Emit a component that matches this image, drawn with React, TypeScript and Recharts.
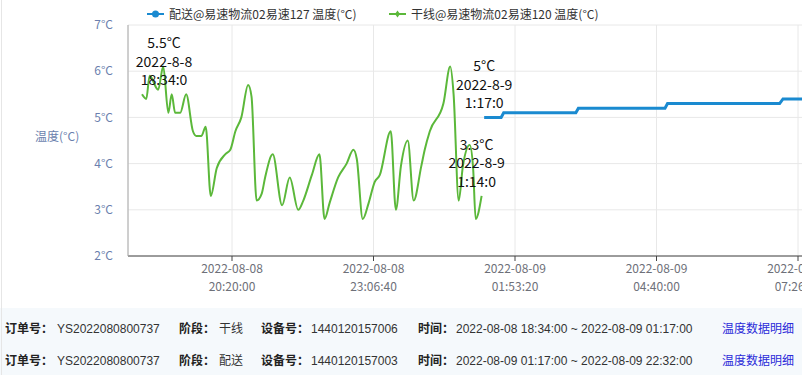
import React from "react";
import {
	LineChart,
	Line,
	XAxis,
	YAxis,
	CartesianGrid,
	ReferenceDot,
} from "recharts";

// series names
const deliveryName = "配送@易速物流02易速127 温度(°C)";
const trunkName = "干线@易速物流02易速120 温度(°C)";

// time = minutes since 2022-08-08 00:00
const trunkTimes = [
	1114, 1119, 1123, 1133, 1139, 1145, 1149, 1153, 1159, 1166, 1174, 1178, 1184,
	1189, 1195, 1202, 1212, 1218, 1224, 1231, 1239, 1243, 1249, 1255, 1259, 1268,
	1279, 1288, 1298, 1304, 1314, 1323, 1329, 1335, 1345, 1355, 1363, 1367, 1374,
	1381, 1388, 1394, 1407, 1413, 1419, 1427, 1434, 1443, 1447, 1453, 1469, 1477,
	1481, 1487, 1492, 1500, 1504, 1507, 1514,
];
const trunkTemps = [
	5.5, 5.4, 5.9, 5.6, 6.1, 5.1, 5.5, 5.1, 5.1, 5.5, 4.7, 4.6, 4.6, 4.8, 3.3, 3.9,
	4.2, 4.3, 4.7, 5.0, 5.7, 5.45, 3.2, 3.35, 3.7, 4.2, 3.1, 3.7, 3.0, 3.2, 3.75,
	4.2, 2.8, 3.15, 3.7, 4.0, 4.3, 4.1, 2.8, 3.15, 3.6, 3.75, 4.7, 3.0, 3.95, 4.5,
	3.2, 3.95, 4.3, 4.7, 5.3, 6.1, 5.5, 3.2, 3.95, 4.4, 3.9, 2.8, 3.3,
];
const deliveryTimes = [1517, 1537, 1540, 1625, 1628, 1730, 1733, 1865, 1869, 1910];
const deliveryTemps = [5.0, 5.0, 5.1, 5.1, 5.2, 5.2, 5.3, 5.3, 5.4, 5.4];

const xTicks = [1220, 1386.667, 1553.333, 1720, 1886.667];
const xTickDates = ["2022-08-08", "2022-08-08", "2022-08-09", "2022-08-09", "2022-08-09"];
const xTickTimes = ["20:20:00", "23:06:40", "01:53:20", "04:40:00", "07:26:40"];
const yTicks = [2, 3, 4, 5, 6, 7];

// annotated points
const noteTimes = [1114, 1517, 1514];
const noteTemps = [5.5, 5, 3.3];

// order rows
const orderNos = ["YS2022080800737", "YS2022080800737"];
const stages = ["干线", "配送"];
const deviceIds = ["1440120157006", "1440120157003"];
const timeRanges = [
	"2022-08-08 18:34:00 ~ 2022-08-09 01:17:00",
	"2022-08-09 01:17:00 ~ 2022-08-09 22:32:00",
];

const trunkData = trunkTimes.map((t, i) => ({ t, v: trunkTemps[i] }));
const deliveryData = deliveryTimes.map((t, i) => ({ t, v: deliveryTemps[i] }));

const GREEN = "#5bb83a";
const BLUE = "#1a8ad0";
const FONT = "'Noto Sans CJK SC', 'Noto Sans', sans-serif";

function noteLines(t: number, v: number) {
	const day = 8 + Math.floor(t / 1440);
	const m = t % 1440;
	return [`${v}°C`, `2022-8-${day}`, `${Math.floor(m / 60)}:${m % 60}:0`];
}

const noteDx = [22, 0, -5];

function XTick(props: any) {
	const { x, y, index } = props;
	return (
		<text x={x} y={y} textAnchor='middle' fill='#6e7079' fontSize={12}>
			<tspan x={x} dy='0.75em'>
				{xTickDates[index]}
			</tspan>
			<tspan x={x} dy='1.5em'>
				{xTickTimes[index]}
			</tspan>
		</text>
	);
}

export default function App() {
	const rowLabel = { position: "absolute" as const, fontWeight: 700, color: "#222" };
	const rowVal = { position: "absolute" as const, color: "#333" };
	return (
		<div
			style={{
				position: "relative",
				width: 802,
				height: 375,
				overflow: "hidden",
				background: "#fff",
				fontFamily: FONT,
			}}>
			<style>{`body{margin:0}`}</style>
			<div style={{ position: "absolute", left: 0, top: 0 }}>
				<LineChart
					width={900}
					height={300}
					margin={{ top: 25, right: 0, bottom: 0, left: 0 }}>
					<CartesianGrid stroke='#e8e8e8' />
					<XAxis
						type='number'
						dataKey='t'
						domain={[1097.5, 2006.8]}
						ticks={xTicks}
						interval={0}
						allowDataOverflow
						height={44}
						tickSize={5}
						tickMargin={3}
						axisLine={{ stroke: "#444" }}
						tickLine={{ stroke: "#444" }}
						tick={<XTick />}
					/>
					<YAxis
						type='number'
						domain={[2, 7]}
						ticks={yTicks}
						width={128}
						tickLine={false}
						tickMargin={9}
						tickFormatter={(v) => `${v}°C`}
						tick={{ fill: "#6b7fae", fontSize: 12 }}
						axisLine={{ stroke: "#aaa" }}
						label={{
							value: "温度(°C)",
							position: "insideLeft",
							offset: 35,
							fill: "#6b7fae",
							fontSize: 12,
							dy: -4,
						}}
					/>
					<Line
						data={trunkData}
						dataKey='v'
						name={trunkName}
						type='monotone'
						stroke={GREEN}
						strokeWidth={2}
						dot={false}
						isAnimationActive={false}
					/>
					<Line
						data={deliveryData}
						dataKey='v'
						name={deliveryName}
						type='linear'
						stroke={BLUE}
						strokeWidth={3}
						dot={false}
						isAnimationActive={false}
					/>
					{noteTimes.map((t, i) => (
						<ReferenceDot
							key={i}
							x={t}
							y={noteTemps[i]}
							r={1}
							ifOverflow='visible'
							shape={(p: any) => {
								const lines = noteLines(t, noteTemps[i]);
								const cx = p.cx + noteDx[i];
								return (
									<g>
										{lines.map((s, j) => (
											<text
												key={j}
												x={cx}
												y={p.cy - 14 - (2 - j) * 18.5}
												dy='0.35em'
												textAnchor='middle'
												fontSize={14}
												fill='#111'>
												{s}
											</text>
										))}
									</g>
								);
							}}
						/>
					))}
				</LineChart>
			</div>

			{/* legend */}
			<div
				style={{
					position: "absolute",
					left: 147,
					top: 5,
					display: "flex",
					alignItems: "center",
					fontSize: 12,
					color: "#333",
				}}>
				<svg width={17} height={10}>
					<line x1={0} y1={5} x2={17} y2={5} stroke={BLUE} strokeWidth={2} />
					<circle cx={8.5} cy={5} r={3.5} fill={BLUE} />
				</svg>
				<span style={{ marginLeft: 5 }}>{deliveryName}</span>
			</div>
			<div
				style={{
					position: "absolute",
					left: 389,
					top: 5,
					display: "flex",
					alignItems: "center",
					fontSize: 12,
					color: "#333",
				}}>
				<svg width={17} height={10}>
					<line x1={0} y1={5} x2={17} y2={5} stroke={GREEN} strokeWidth={2} />
					<path d='M8.5 1.5 L11 5 L8.5 8.5 L6 5 Z' fill={GREEN} />
				</svg>
				<span style={{ marginLeft: 5 }}>{trunkName}</span>
			</div>

			{/* order rows */}
			<div
				style={{
					position: "absolute",
					left: 0,
					top: 308,
					width: 802,
					height: 67,
					background: "#f5f9fc",
					fontSize: 12,
					lineHeight: "16px",
					fontFamily: "'Liberation Sans', 'Noto Sans CJK SC', sans-serif",
				}}>
				{orderNos.map((no, i) => {
					const top = 13 + i * 32;
					return (
						<React.Fragment key={i}>
							<span style={{ ...rowLabel, left: 5, top }}>订单号：</span>
							<span style={{ ...rowVal, left: 57, top }}>{no}</span>
							<span style={{ ...rowLabel, left: 179, top }}>阶段：</span>
							<span style={{ ...rowVal, left: 219, top }}>{stages[i]}</span>
							<span style={{ ...rowLabel, left: 261, top }}>设备号：</span>
							<span style={{ ...rowVal, left: 311, top }}>{deviceIds[i]}</span>
							<span style={{ ...rowLabel, left: 418, top }}>时间：</span>
							<span style={{ ...rowVal, left: 456, top }}>{timeRanges[i]}</span>
							<span style={{ ...rowVal, left: 722, top, color: "#2b2bd9" }}>
								温度数据明细
							</span>
						</React.Fragment>
					);
				})}
			</div>
			<div
				style={{
					position: "absolute",
					left: 1,
					top: 0,
					width: 1,
					height: 375,
					background: "#e6e6e6",
				}}
			/>
		</div>
	);
}
